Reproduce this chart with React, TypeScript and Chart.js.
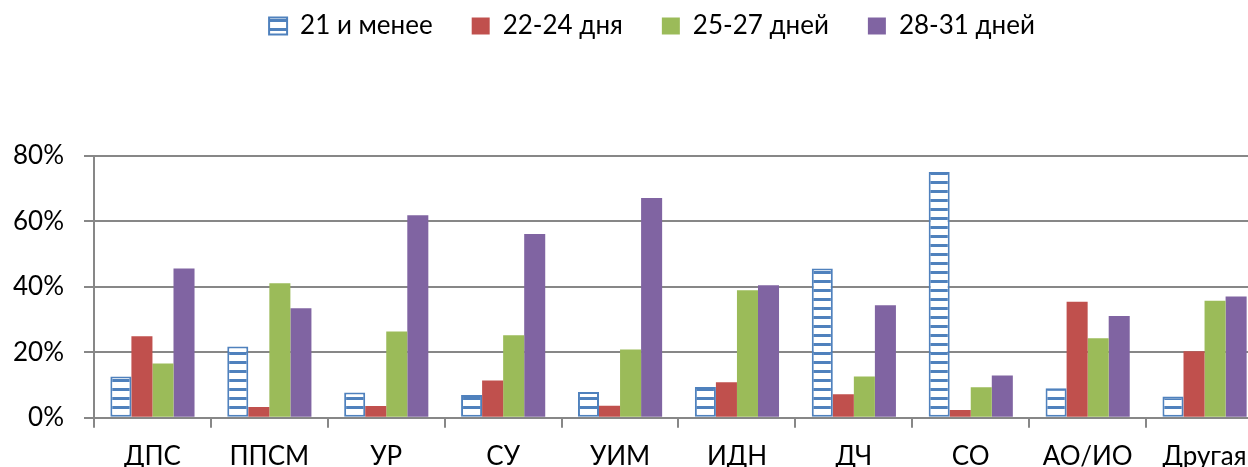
import React, { useEffect, useRef } from "react";
import { Chart, registerables } from "chart.js";

Chart.register(...registerables);

const categories = ["ДПС", "ППСМ", "УР", "СУ", "УИМ", "ИДН", "ДЧ", "СО", "АО/ИО", "Другая"];
const seriesNames = ["21 и менее", "22-24 дня", "25-27 дней", "28-31 дней"];
const s21 = [12.6, 21.8, 7.7, 7.0, 7.9, 9.4, 45.6, 75.1, 9.0, 6.5];
const s22 = [24.9, 3.3, 3.6, 11.4, 3.7, 10.9, 7.2, 2.4, 35.5, 20.3];
const s25 = [16.6, 41.1, 26.4, 25.2, 20.9, 39.0, 12.6, 9.3, 24.3, 35.8];
const s28 = [45.6, 33.5, 61.9, 56.2, 67.2, 40.5, 34.4, 12.9, 31.1, 37.1];
const yMin = 0;
const yMax = 80;
const yStep = 20;

const FONT = "Lato, 'Noto Sans', sans-serif";
const BLUE = "#4F81BD";
const RED = "#C0504D";
const GREEN = "#9BBB59";
const PURPLE = "#8064A2";
const GRID = "#878787";

function makeStripes(): CanvasPattern | string {
  const c = document.createElement("canvas");
  c.width = 8;
  c.height = 9;
  const g = c.getContext("2d");
  if (!g) return BLUE;
  g.fillStyle = "#ffffff";
  g.fillRect(0, 0, 8, 9);
  g.fillStyle = BLUE;
  g.fillRect(0, 0, 8, 3);
  const p = g.createPattern(c, "repeat");
  if (!p) return BLUE;
  try {
    p.setTransform(new DOMMatrix().translate(0, 1));
  } catch (e) {}
  return p;
}

const EXTRA = 107;
const LEGEND_SHIFT = 24;

const legendSpacer = {
  id: "legendSpacer",
  beforeInit(chart: any) {
    const legend = chart.legend;
    if (!legend) return;
    const orig = legend.fit;
    legend.fit = function () {
      orig.call(this);
      this.height += EXTRA;
    };
  },
  afterLayout(chart: any) {
    const legend = chart.legend;
    if (!legend) return;
    legend.left += LEGEND_SHIFT;
    legend.right += LEGEND_SHIFT;
  },
};

export default function App() {
  const ref = useRef<HTMLCanvasElement | null>(null);

  useEffect(() => {
    const canvas = ref.current;
    if (!canvas) return;
    const stripes = makeStripes();
    const chart = new Chart(canvas, {
      type: "bar",
      data: {
        labels: categories,
        datasets: [
          {
            label: seriesNames[0],
            data: s21,
            backgroundColor: stripes as any,
            borderColor: BLUE,
            borderWidth: 2,
            borderSkipped: false,
          },
          { label: seriesNames[1], data: s22, backgroundColor: RED, borderWidth: 0 },
          { label: seriesNames[2], data: s25, backgroundColor: GREEN, borderWidth: 0 },
          { label: seriesNames[3], data: s28, backgroundColor: PURPLE, borderWidth: 0 },
        ],
      },
      options: {
        responsive: false,
        animation: false,
        devicePixelRatio: 1,
        layout: { padding: { top: -26, left: -7, right: 0, bottom: 0 } },
        datasets: { bar: { categoryPercentage: 0.72, barPercentage: 1.0 } },
        plugins: {
          legend: {
            position: "top",
            align: "center",
            labels: {
              boxWidth: 18,
              boxHeight: 17,
              padding: 39,
              color: "#000",
              font: { family: FONT, size: 26 },
            },
          },
          tooltip: { enabled: false },
          title: { display: false },
        },
        scales: {
          x: {
            grid: {
              display: true,
              drawOnChartArea: false,
              drawTicks: true,
              tickLength: 10,
              color: GRID,
              lineWidth: 2,
              offset: true,
            },
            border: { display: true, color: GRID, width: 2 },
            ticks: {
              padding: 13,
              color: "#000",
              font: { family: FONT, size: 26 },
              maxRotation: 0,
              autoSkip: false,
            },
          },
          y: {
            min: yMin,
            max: yMax,
            grid: { color: GRID, lineWidth: 2, tickLength: 10, drawTicks: true },
            border: { display: true, color: GRID, width: 2 },
            ticks: {
              stepSize: yStep,
              padding: 20,
              color: "#000",
              font: { family: FONT, size: 26 },
              callback: (v: any) => v + "%",
            },
          },
        },
      },
      plugins: [legendSpacer],
    });
    return () => chart.destroy();
  }, []);

  return (
    <div
      style={{
        position: "fixed",
        left: 0,
        top: 0,
        width: 1248,
        height: 467,
        overflow: "hidden",
        background: "#fff",
      }}
    >
      <canvas ref={ref} width={1263} height={485} style={{ width: 1263, height: 485, display: "block" }} />
    </div>
  );
}
